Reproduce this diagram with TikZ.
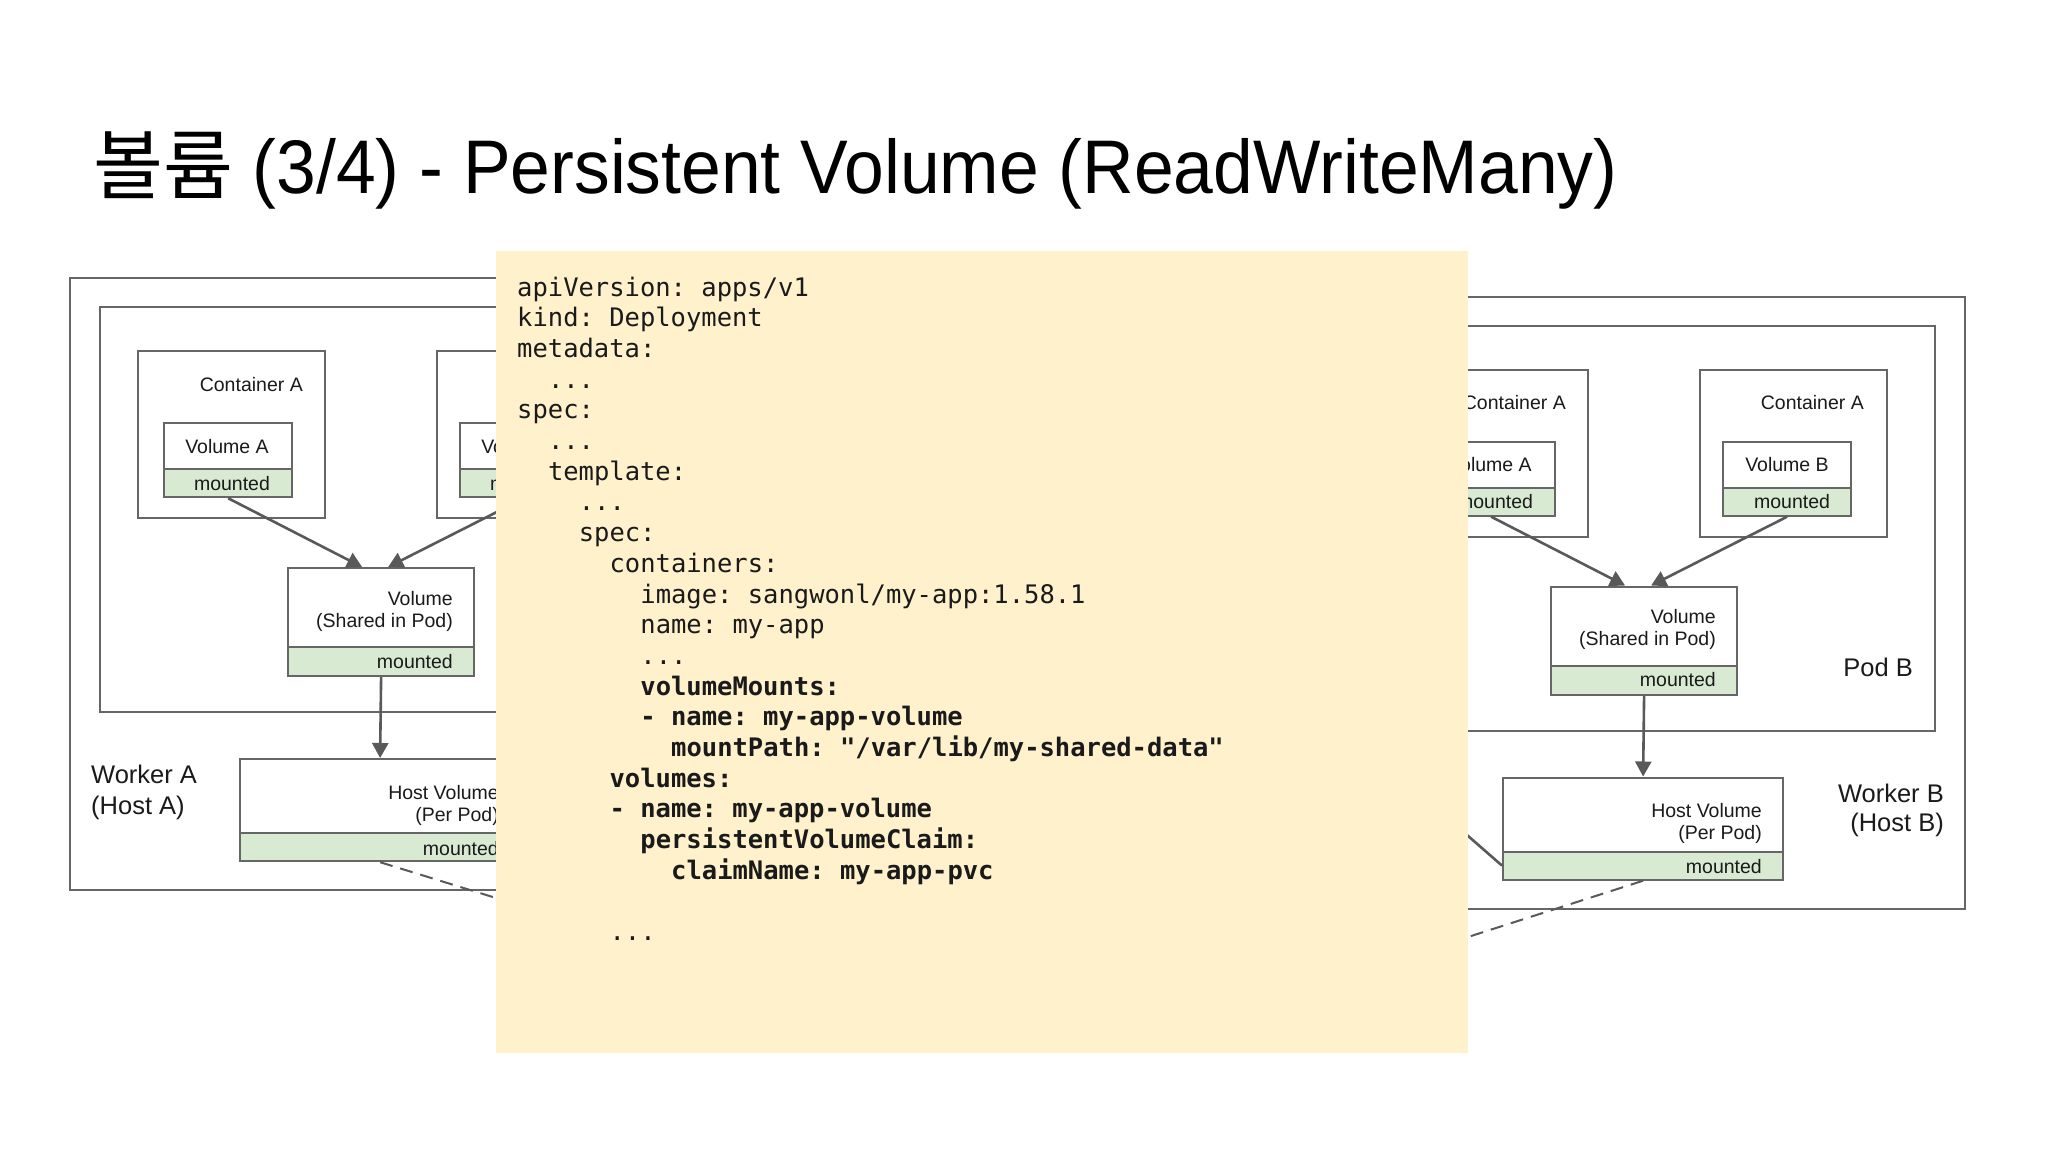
\documentclass[tikz,border=0pt]{standalone}
\usepackage{fontspec}
\usetikzlibrary{arrows.meta}
\newfontfamily\titlefont{Liberation Sans}[FakeStretch=0.94]
\newfontfamily\kofont{Noto Sans CJK KR}
\newfontfamily\dfont{Liberation Sans}
\newfontfamily\codefont{DejaVu Sans Mono}
\definecolor{boxgray}{HTML}{666666}
\definecolor{linegray}{HTML}{595959}
\definecolor{mountgreen}{HTML}{D9EAD3}
\definecolor{codebg}{HTML}{FFF1CC}
\definecolor{txt}{HTML}{1A1A1A}
\tikzset{
  box/.style={draw=boxgray, line width=2.2pt, fill=white, inner sep=0pt, anchor=north west},
  strip/.style={box, fill=mountgreen},
  conn/.style={draw=linegray, line width=2.6pt},
  arr/.style={conn, -{Triangle[length=15pt,width=16pt]}},
  dashconn/.style={conn, line width=2pt, dash pattern=on 13pt off 8pt},
  lbl/.style={font=\dfont\fontsize{19.5}{22}\selectfont, inner sep=0pt, text=txt},
  biglbl/.style={font=\dfont\fontsize{25.5}{29}\selectfont, inner sep=0pt, text=txt},
  codetext/.style={font=\codefont\frenchspacing\fontsize{25.5}{30}\selectfont, inner sep=0pt, text=txt},
  codebold/.style={codetext, font=\codefont\frenchspacing\bfseries\fontsize{25.5}{30}\selectfont},
}
\newcommand\podgroup[3]{%
  \node[box, minimum width=632pt, minimum height=612pt] (#1worker) at ({69+#2},{277+#3}) {};
  \node[box, minimum width=572pt, minimum height=405pt] (#1pod) at ({99+#2},{306+#3}) {};
  \node[box, minimum width=187pt, minimum height=167pt] (#1ca) at ({137+#2},{350+#3}) {};
  \node[box, minimum width=187pt, minimum height=167pt] (#1cb) at ({436+#2},{350+#3}) {};
  \node[box, minimum width=128pt, minimum height=46pt] (#1va) at ({163+#2},{422+#3}) {};
  \node[strip, minimum width=128pt, minimum height=28pt] (#1vam) at ({163+#2},{468+#3}) {};
  \node[box, minimum width=128pt, minimum height=46pt] (#1vb) at ({459+#2},{422+#3}) {};
  \node[strip, minimum width=128pt, minimum height=28pt] (#1vbm) at ({459+#2},{468+#3}) {};
  \node[box, minimum width=186pt, minimum height=79pt] (#1sv) at ({287+#2},{567+#3}) {};
  \node[strip, minimum width=186pt, minimum height=29pt] (#1svm) at ({287+#2},{646+#3}) {};
  \node[box, minimum width=280pt, minimum height=74pt] (#1hv) at ({239+#2},{758+#3}) {};
  \node[strip, minimum width=280pt, minimum height=28pt] (#1hvm) at ({239+#2},{832+#3}) {};
  \draw[arr] (#1vam.south) -- ([xshift=-19pt]#1sv.north);
  \draw[arr] (#1vbm.south) -- ([xshift=7pt]#1sv.north);
  \draw[arr] (#1svm.south) -- (#1hv.north);
}
\newcommand\codeln[5]{\node[#4, anchor=base west] (#1) at ({517+15.4*#3},{296+30.7*#2}) {#5};}
\begin{document}
\begin{tikzpicture}[x=1pt, y=-1pt]
\useasboundingbox (0,0) rectangle (2048,1152);
\fill[white] (0,0) rectangle (2048,1152);

% title
\node[anchor=base west, inner sep=0pt, text=black, font=\titlefont\fontsize{76}{80}\selectfont] (title) at (93,193)
  {{\kofont 볼륨} (3/4) - Persistent Volume (ReadWriteMany)};

% worker A
\podgroup{A}{0}{0}
\node[lbl, anchor=base east] (Aca-l) at (303,391) {Container A};
\node[lbl, anchor=base] (Ava-l) at (227,453) {Volume A};
\node[lbl, anchor=base] (Avam-l) at (232,490) {mounted};
\node[lbl, anchor=base] (Avb-l) at (523,453) {Volume B};
\node[lbl, anchor=base] (Avbm-l) at (528,490) {mounted};
\node[lbl, anchor=base east] (Asv-l1) at (453,605) {Volume};
\node[lbl, anchor=base east] (Asv-l2) at (453,627) {(Shared in Pod)};
\node[lbl, anchor=base east] (Asvm-l) at (453,668) {mounted};
\node[lbl, anchor=base east] (Ahv-l1) at (499,799) {Host Volume};
\node[lbl, anchor=base east] (Ahv-l2) at (499,821) {(Per Pod)};
\node[lbl, anchor=base east] (Ahvm-l) at (499,855) {mounted};
\node[biglbl, anchor=base west] (Aw-l1) at (91,783) {Worker A};
\node[biglbl, anchor=base west] (Aw-l2) at (91,814) {(Host A)};

% worker B
\podgroup{B}{1263}{18.5}
\node[lbl, anchor=base east] (Bca-l) at (1566,409.5) {Container A};
\node[lbl, anchor=base east] (Bcb-l) at (1864,409.5) {Container A};
\node[lbl, anchor=base] (Bva-l) at (1490,471.5) {Volume A};
\node[lbl, anchor=base] (Bvam-l) at (1495,508.5) {mounted};
\node[lbl, anchor=base] (Bvb-l) at (1787,471.5) {Volume B};
\node[lbl, anchor=base] (Bvbm-l) at (1792,508.5) {mounted};
\node[lbl, anchor=base east] (Bsv-l1) at (1716,623.5) {Volume};
\node[lbl, anchor=base east] (Bsv-l2) at (1716,645.5) {(Shared in Pod)};
\node[lbl, anchor=base east] (Bsvm-l) at (1716,686.5) {mounted};
\node[lbl, anchor=base east] (Bhv-l1) at (1762,817.5) {Host Volume};
\node[lbl, anchor=base east] (Bhv-l2) at (1762,839.5) {(Per Pod)};
\node[lbl, anchor=base east] (Bhvm-l) at (1762,873.5) {mounted};
\node[biglbl, anchor=base east] (Bpod-l) at (1913,676) {Pod B};
\node[biglbl, anchor=base east] (Bw-l1) at (1944,802) {Worker B};
\node[biglbl, anchor=base east] (Bw-l2) at (1944,831) {(Host B)};

% links to the hidden storage
\coordinate (pvA) at (700,961);
\coordinate (pvB) at (1300,991);
\coordinate (lnB) at (1420,794);
\draw[dashconn] (Ahvm.south) -- (pvA);
\draw[dashconn] (Bhvm.south) -- (pvB);
\draw[conn] (Bhvm.west) -- (lnB);

% code panel
\node[fill=codebg, inner sep=0pt, anchor=north west, minimum width=972pt, minimum height=802pt] (codebox) at (496,251) {};
\codeln{c0}{0}{0}{codetext}{apiVersion: apps/v1}
\codeln{c1}{1}{0}{codetext}{kind: Deployment}
\codeln{c2}{2}{0}{codetext}{metadata:}
\codeln{c3}{3}{2}{codetext}{...}
\codeln{c4}{4}{0}{codetext}{spec:}
\codeln{c5}{5}{2}{codetext}{...}
\codeln{c6}{6}{2}{codetext}{template:}
\codeln{c7}{7}{4}{codetext}{...}
\codeln{c8}{8}{4}{codetext}{spec:}
\codeln{c9}{9}{6}{codetext}{containers:}
\codeln{c10}{10}{8}{codetext}{image: sangwonl/my-app:1.58.1}
\codeln{c11}{11}{8}{codetext}{name: my-app}
\codeln{c12}{12}{8}{codetext}{...}
\codeln{c13}{13}{8}{codebold}{volumeMounts:}
\codeln{c14}{14}{8}{codebold}{- name: my-app-volume}
\codeln{c15}{15}{10}{codebold}{mountPath: "/var/lib/my-shared-data"}
\codeln{c16}{16}{6}{codebold}{volumes:}
\codeln{c17}{17}{6}{codebold}{- name: my-app-volume}
\codeln{c18}{18}{8}{codebold}{persistentVolumeClaim:}
\codeln{c19}{19}{10}{codebold}{claimName: my-app-pvc}
\codeln{c21}{21}{6}{codetext}{...}
\end{tikzpicture}
\end{document}
